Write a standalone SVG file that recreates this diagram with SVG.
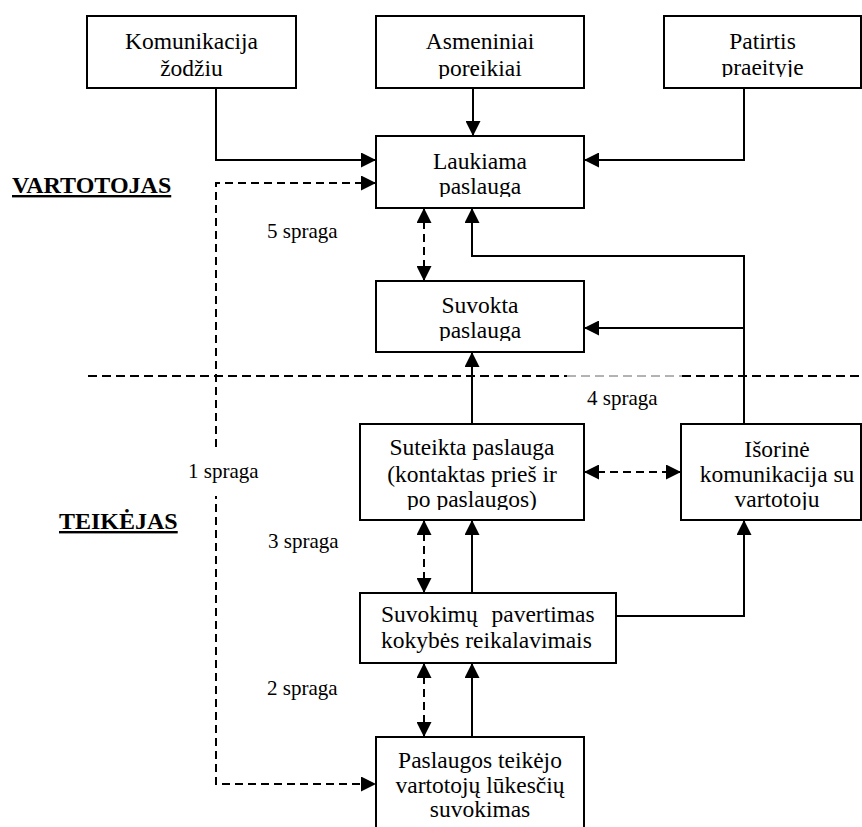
<svg xmlns="http://www.w3.org/2000/svg" width="862" height="827" viewBox="0 0 862 827">
  <style>
    text { font-family: 'Liberation Serif', 'Times New Roman', Tinos, 'DejaVu Serif', serif; fill: #000; }
    .box { fill: #fff; stroke: #000; stroke-width: 2; }
    .t { font-size: 23.5px; }
    .c { text-anchor: middle; }
    .gap { font-size: 21px; }
    .head { font-size: 24px; font-weight: bold; text-decoration: underline; }
    .solid { fill: none; stroke: #000; stroke-width: 2; }
    .dash { fill: none; stroke: #000; stroke-width: 2; stroke-dasharray: 8 5; }
    .arr { marker-end: url(#ah); }
    .arr2 { marker-start: url(#ah); marker-end: url(#ah); }
  </style>
  <defs>
    <marker id="ah" viewBox="0 0 15 15" refX="15" refY="7.5" markerWidth="15" markerHeight="15" markerUnits="userSpaceOnUse" orient="auto-start-reverse">
      <path d="M0,0 L15,7.5 L0,15 z" fill="#000"/>
    </marker>
    <clipPath id="clipKom"><rect x="87" y="16" width="209" height="63"/></clipPath>
    <clipPath id="clipAsm"><rect x="376" y="16" width="208" height="63"/></clipPath>
    <clipPath id="clipPat"><rect x="664" y="16" width="198" height="61"/></clipPath>
    <clipPath id="clipLauk"><rect x="376" y="136" width="208" height="61"/></clipPath>
    <clipPath id="clipSuv"><rect x="376" y="281" width="208" height="60"/></clipPath>
    <clipPath id="clipSut"><rect x="360" y="424" width="224" height="86"/></clipPath>
    <clipPath id="clipIso"><rect x="681" y="424" width="181" height="86"/></clipPath>
  </defs>

  <rect width="862" height="827" fill="#fff"/>

  <!-- boundary between customer and provider -->
  <g id="separator">
    <line x1="88" y1="376" x2="567" y2="376" stroke="#000" stroke-width="2" stroke-dasharray="9 5"/>
    <line x1="567" y1="376" x2="682" y2="376" stroke="#666" stroke-width="1" stroke-dasharray="9 5"/>
    <line x1="682" y1="376" x2="862" y2="376" stroke="#000" stroke-width="2" stroke-dasharray="9 5"/>
  </g>

  <g id="connectors">
    <path class="solid arr" d="M216,88 V160 H376"/>
    <path class="solid arr" d="M473,88 V136"/>
    <path class="solid arr" d="M744,88 V160 H584"/>
    <path class="solid arr" d="M744,424 V256 H472 V208"/>
    <path class="solid arr" d="M744,328 H584"/>
    <path class="solid arr" d="M472,424 V352"/>
    <path class="solid arr" d="M472,593 V520"/>
    <path class="solid arr" d="M616,616 H744 V520"/>
    <path class="solid arr" d="M472,737 V663"/>
    <path class="dash arr2" d="M424,208 V281"/>
    <path class="dash arr2" d="M584,472 H681"/>
    <path class="dash arr2" d="M424,520 V593"/>
    <path class="dash arr2" d="M424,663 V737"/>
    <path class="dash arr2" d="M376,183 H216 V784 H376" stroke-dasharray="7 5"/>
  </g>

  <g id="komunikacija">
    <rect class="box" x="87" y="16" width="209" height="72"/>
    <text class="t c" clip-path="url(#clipKom)"><tspan x="191.5" y="49">Komunikacija</tspan><tspan x="191.5" y="76">žodžiu</tspan></text>
  </g>
  <g id="asmeniniai">
    <rect class="box" x="376" y="16" width="208" height="72"/>
    <text class="t c" clip-path="url(#clipAsm)"><tspan x="480" y="49">Asmeniniai</tspan><tspan x="480" y="76">poreikiai</tspan></text>
  </g>
  <g id="patirtis">
    <rect class="box" x="664" y="16" width="197" height="72"/>
    <text class="t c" clip-path="url(#clipPat)"><tspan x="762.5" y="49">Patirtis</tspan><tspan x="762.5" y="75">praeityje</tspan></text>
  </g>
  <g id="laukiama">
    <rect class="box" x="376" y="136" width="208" height="72"/>
    <text class="t c" clip-path="url(#clipLauk)"><tspan x="480" y="169">Laukiama</tspan><tspan x="480" y="194">paslauga</tspan></text>
  </g>
  <g id="suvokta">
    <rect class="box" x="376" y="281" width="208" height="71"/>
    <text class="t c" clip-path="url(#clipSuv)"><tspan x="480" y="313">Suvokta</tspan><tspan x="480" y="338">paslauga</tspan></text>
  </g>
  <g id="suteikta">
    <rect class="box" x="360" y="424" width="224" height="96"/>
    <text class="t c" clip-path="url(#clipSut)"><tspan x="472" y="455">Suteikta paslauga</tspan><tspan x="472" y="482">(kontaktas prieš ir</tspan><tspan x="472" y="507">po paslaugos)</tspan></text>
  </g>
  <g id="isorine">
    <rect class="box" x="681" y="424" width="180" height="96"/>
    <text class="t c" clip-path="url(#clipIso)"><tspan x="777" y="457">Išorinė</tspan><tspan x="777" y="482">komunikacija su</tspan><tspan x="777" y="507">vartotoju</tspan></text>
  </g>
  <g id="suvokimu">
    <rect class="box" x="360" y="593" width="256" height="70"/>
    <!-- justified first line: widened word gap -->
    <text class="t"><tspan x="381" y="622" word-spacing="8">Suvokimų pavertimas</tspan><tspan x="381" y="648">kokybės reikalavimais</tspan></text>
  </g>
  <g id="paslaugos">
    <rect class="box" x="376" y="737" width="208" height="110"/>
    <text class="t c"><tspan x="480" y="768">Paslaugos teikėjo</tspan><tspan x="480" y="793">vartotojų lūkesčių</tspan><tspan x="480" y="817">suvokimas</tspan></text>
  </g>

  <g id="labels">
    <text class="head" x="12" y="193">VARTOTOJAS</text>
    <text class="head" x="59" y="529">TEIKĖJAS</text>
    <text class="gap" x="267" y="238">5 spraga</text>
    <text class="gap" x="587" y="405">4 spraga</text>
    <rect x="184" y="449" width="80" height="47" fill="#fff"/>
    <text class="gap" x="188" y="478">1 spraga</text>
    <text class="gap" x="268" y="548">3 spraga</text>
    <text class="gap" x="267" y="695">2 spraga</text>
  </g>
</svg>
